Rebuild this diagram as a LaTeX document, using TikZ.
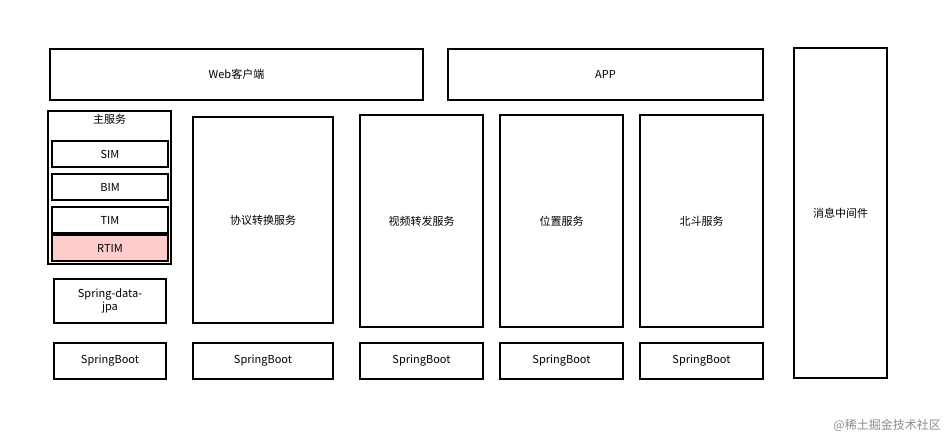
\documentclass[tikz,border=0pt]{standalone}
\usepackage{fontspec}
\setmainfont{Noto Sans CJK SC}
\begin{document}
\begin{tikzpicture}[x=1pt,y=-1pt,
  bx/.style={draw=black,line width=1.2pt},
  lbl/.style={font=\fontsize{11}{13}\selectfont,inner sep=0pt}]
\useasboundingbox[fill=white] (0,0) rectangle (949,441);
\draw[bx] (50,49) rectangle (423,100); \node[lbl] (web) at (236.5,74.5) {Web客户端};
\draw[bx] (448,49) rectangle (763,100); \node[lbl] (app) at (605.5,74.5) {APP};
\draw[bx] (794,48) rectangle (887,378); \node[lbl] (mq) at (840.5,213) {消息中间件};
\draw[bx] (48,111) rectangle (171,264); \node[lbl] (main) at (109.5,119) {主服务};
\draw[bx] (52,141) rectangle (168,167); \node[lbl] (sim) at (110,154) {SIM};
\draw[bx] (52,174) rectangle (168,200); \node[lbl] (bim) at (110,187) {BIM};
\draw[bx] (52,207) rectangle (168,233); \node[lbl] (tim) at (110,220) {TIM};
\draw[bx,fill={rgb,255:red,255;green,204;blue,204}] (52,235) rectangle (168,261); \node[lbl] (rtim) at (110,248) {RTIM};
\draw[bx] (54,279) rectangle (166,323); \node[lbl,align=center] (jpa) at (110,301) {Spring-data-\\jpa};
\draw[bx] (193,117) rectangle (333,323); \node[lbl] (s1) at (263,220) {协议转换服务};
\draw[bx] (360,115) rectangle (483,327); \node[lbl] (s2) at (421.5,221) {视频转发服务};
\draw[bx] (500,115) rectangle (623,327); \node[lbl] (s3) at (561.5,221) {位置服务};
\draw[bx] (640,115) rectangle (763,327); \node[lbl] (s4) at (701.5,221) {北斗服务};
\draw[bx] (54,343) rectangle (166,379); \node[lbl] (b0) at (110,361) {SpringBoot};
\draw[bx] (193,343) rectangle (333,379); \node[lbl] (b1) at (263,361) {SpringBoot};
\draw[bx] (360,343) rectangle (483,379); \node[lbl] (b2) at (421.5,361) {SpringBoot};
\draw[bx] (500,343) rectangle (623,379); \node[lbl] (b3) at (561.5,361) {SpringBoot};
\draw[bx] (640,343) rectangle (763,379); \node[lbl] (b4) at (701.5,361) {SpringBoot};
\node[lbl,text=black!45,font=\fontsize{12}{14}\selectfont,anchor=east] (wm) at (941,425) {@稀土掘金技术社区};
\end{tikzpicture}
\end{document}
